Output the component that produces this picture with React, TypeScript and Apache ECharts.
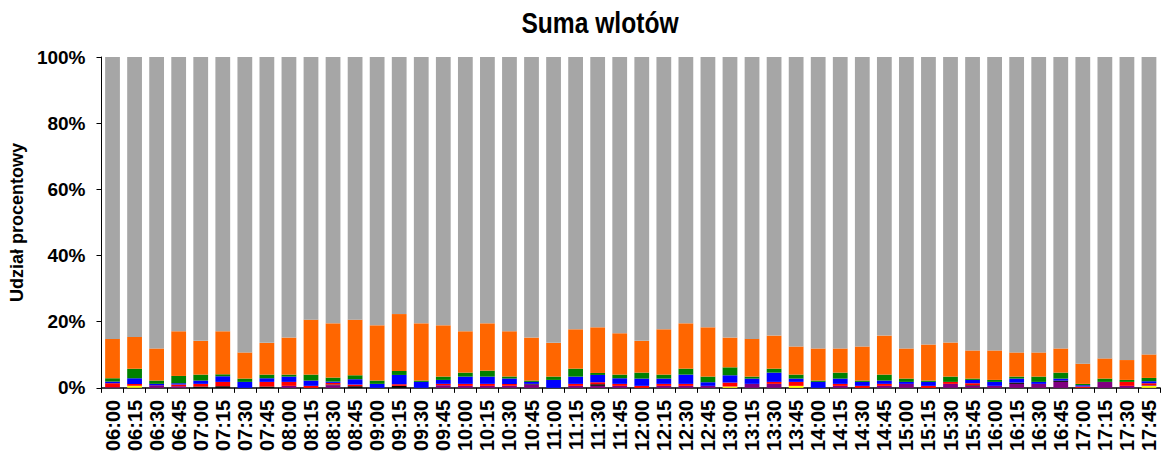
import React, { useEffect, useRef } from "react";
import * as echarts from "echarts";

const categories = [
  "06:00","06:15","06:30","06:45","07:00","07:15","07:30","07:45",
  "08:00","08:15","08:30","08:45","09:00","09:15","09:30","09:45",
  "10:00","10:15","10:30","10:45","11:00","11:15","11:30","11:45",
  "12:00","12:15","12:30","12:45","13:00","13:15","13:30","13:45",
  "14:00","14:15","14:30","14:45","15:00","15:15","15:30","15:45",
  "16:00","16:15","16:30","16:45","17:00","17:15","17:30","17:45",
];

// total share of all non-gray layers (top of orange)
const totals = [
  14.8,15.4,11.9,17.1,14.2,17.1,10.7,13.6,
  15.2,20.6,19.5,20.6,18.9,22.3,19.5,18.9,
  17.1,19.5,17.1,15.2,13.6,17.7,18.3,16.5,
  14.2,17.7,19.5,18.3,15.2,14.8,15.8,12.5,
  11.9,11.9,12.5,15.8,11.9,13.1,13.7,11.3,
  11.3,10.7,10.7,11.9,7.3,8.9,8.4,10.1,
];
const yellow = [
  0,0.6,0,0,0,0,0,0, 0,0,0,0,0,0,0,0,
  0,0,0,0,0,0,0,0, 0,0,0,0,0.4,0,0,0.6,
  0,0,0,0,0,0,0,0, 0,0,0,0,0,0,0,0.6,
];
const purple = [
  0.2,0,0.8,0.5,0,0,0,0, 0.6,0,0.8,0,0,0,0,0.8,
  0.6,0.6,0.6,1.0,0,0.6,0.6,0.6, 0,0.6,0.6,0.6,0,1.2,1.2,0,
  0,0.6,0,0.6,1.2,0,1.2,0.6, 0.6,1.2,1.2,1.8,0,1.8,0.6,0.2,
];
const black = [
  0,0,0,0,0.4,0.5,0,0.4, 0,0,0.2,0.5,0,0.6,0,0,
  0,0,0,0.2,0,0,0.5,0, 0,0,0,0,0,0,0,0,
  0,0,0,0,0,0,0,0.2, 0,0.4,0,0.4,0,0,0,0,
];
const red = [
  1.2,0.6,0,0.5,0.8,1.3,0,1.4, 1.2,0.6,0.5,0.5,0,0.5,0,0.4,
  0.6,0.6,0.6,0,0,0.6,0.6,0.6, 0.6,0.6,0.6,0,1.2,0,0.6,1.2,
  0,0.6,0.6,0.6,0,0.6,0.6,0.6, 0,0,0,0,0.4,0,1.2,0.6,
];
const blue = [
  0.5,1.7,0.4,0.4,1.0,1.7,1.8,1.1, 1.6,1.6,0.4,1.6,1.2,2.8,1.8,1.2,
  2.2,2.2,1.6,0.6,2.4,2.2,2.2,1.7, 2.2,1.6,2.8,1.1,2.2,1.6,2.8,1.0,
  1.8,1.6,1.2,1.0,0.6,1.2,0,1.0, 1.2,1.2,0.6,0.6,0.4,0,0,0.6,
];
const green = [
  1.0,2.9,1.0,2.2,1.8,0.6,1.0,1.1, 0.6,1.8,1.2,1.2,1.0,1.2,0.4,1.0,
  1.2,1.8,0.6,0.4,1.0,2.4,0.6,1.1, 1.8,1.2,1.8,1.7,2.4,0.6,1.2,1.2,
  0.4,1.8,0.4,1.8,1.0,0.4,1.6,0.4, 0.6,0.6,1.6,1.8,0.4,1.0,0.6,1.0,
];

const round1 = (v: number) => Math.round(v * 10) / 10;
const orange = totals.map((t, i) =>
  round1(t - yellow[i] - purple[i] - black[i] - red[i] - blue[i] - green[i])
);
const gray = totals.map((t) => round1(100 - t));

const FONT = "Arial, 'Liberation Sans', sans-serif";

export default function App() {
  const ref = useRef<HTMLDivElement>(null);
  useEffect(() => {
    if (!ref.current) return;
    const chart = echarts.init(ref.current, undefined, { renderer: "svg" });
    const layers: [string, number[], string][] = [
      ["Żółty", yellow, "#FFFF00"],
      ["Fioletowy", purple, "#800080"],
      ["Czarny", black, "#000000"],
      ["Czerwony", red, "#FF0000"],
      ["Niebieski", blue, "#0000FF"],
      ["Zielony", green, "#008000"],
      ["Pomarańczowy", orange, "#FF6600"],
      ["Szary", gray, "#A6A6A6"],
    ];
    chart.setOption({
      animation: false,
      graphic: [
        {
          type: "text",
          x: 600,
          y: 8,
          scaleX: 0.82,
          style: {
            text: "Suma wlotów",
            fontFamily: FONT,
            fontSize: 30,
            fontWeight: "bold",
            fill: "#000",
            textAlign: "center",
            textVerticalAlign: "top",
          },
        },
      ],
      grid: { left: 99, right: 2, top: 57, bottom: 66, containLabel: false },
      xAxis: {
        type: "category",
        data: categories,
        axisLine: { lineStyle: { color: "#000", width: 1.5 } },
        axisTick: { show: true, length: 5, lineStyle: { color: "#000" } },
        axisLabel: {
          rotate: 90,
          interval: 0,
          margin: 12,
          fontFamily: FONT,
          fontSize: 20,
          fontWeight: "bold",
          color: "#000",
        },
      },
      yAxis: {
        type: "value",
        min: 0,
        max: 100,
        interval: 20,
        name: "Udział procentowy",
        nameLocation: "middle",
        nameGap: 71,
        nameRotate: 90,
        nameTextStyle: { fontFamily: FONT, fontSize: 18, fontWeight: "bold", color: "#000" },
        axisLine: { show: true, lineStyle: { color: "#000", width: 1 } },
        axisTick: { show: true, length: 5, lineStyle: { color: "#000" } },
        splitLine: { show: false },
        axisLabel: {
          formatter: "{value}%",
          margin: 16,
          padding: [8, 0, 0, 0],
          fontFamily: FONT,
          fontSize: 19,
          fontWeight: "bold",
          color: "#000",
        },
      },
      series: layers.map(([name, data, color]) => ({
        name,
        type: "bar",
        stack: "total",
        data,
        barCategoryGap: "33%",
        itemStyle: { color },
      })),
    });
    return () => chart.dispose();
  }, []);
  return (
    <div
      ref={ref}
      style={{ position: "absolute", left: 0, top: 0, width: 1162, height: 454 }}
    />
  );
}
